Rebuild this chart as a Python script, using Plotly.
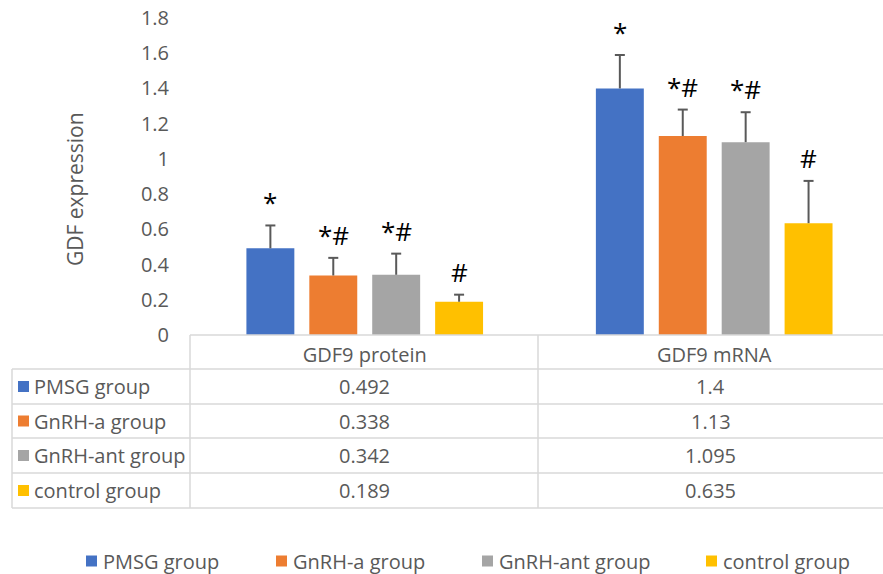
import plotly.graph_objects as go

# ---- data -------------------------------------------------------------
categories = ["GDF9 protein", "GDF9 mRNA"]
groups = ["PMSG group", "GnRH-a group", "GnRH-ant group", "control group"]
colors = ["#4472C4", "#ED7D31", "#A5A5A5", "#FFC000"]

pmsg = [0.492, 1.4]
gnrh_a = [0.338, 1.13]
gnrh_ant = [0.342, 1.095]
control = [0.189, 0.635]

pmsg_err = [0.13, 0.19]
gnrh_a_err = [0.10, 0.15]
gnrh_ant_err = [0.12, 0.17]
control_err = [0.04, 0.24]

pmsg_sig = ["*", "*"]
gnrh_a_sig = ["*#", "*#"]
gnrh_ant_sig = ["*#", "*#"]
control_sig = ["#", "#"]

y_ticks = [0, 0.2, 0.4, 0.6, 0.8, 1, 1.2, 1.4, 1.6, 1.8]

series = [pmsg, gnrh_a, gnrh_ant, control]
errors = [pmsg_err, gnrh_a_err, gnrh_ant_err, control_err]
sigs = [pmsg_sig, gnrh_a_sig, gnrh_ant_sig, control_sig]

# ---- layout geometry (pixels) ------------------------------------------
W, H = 883, 574
PLOT_L, PLOT_R, PLOT_T, PLOT_B = 190, 883, 18, 335
TABLE_L, COL_SPLIT = 12, 538
ROW_LINES = [369, 404, 438, 473, 508]
TEXT = "#595959"
GRID = "#d9d9d9"
FONT = "Open Sans"
FS = 20

X_RANGE = [-0.5, 1.483]
UNIT_PX = (PLOT_R - PLOT_L) / (X_RANGE[1] - X_RANGE[0])
CAP = 5 / UNIT_PX  # half-width of the error-bar cap, in axis units


def px_x(q):
    return (q - PLOT_L) / (PLOT_R - PLOT_L)


def px_y(p):
    return (PLOT_B - p) / (PLOT_B - PLOT_T)


fig = go.Figure()

n_groups = len(groups)
bargap = 0.28
bargroupgap = 0.238
slot = (1 - bargap) / n_groups
xpos = list(range(len(categories)))

for i, (name, vals, col) in enumerate(zip(groups, series, colors)):
    fig.add_trace(go.Bar(
        name=name, x=xpos, y=vals,
        marker=dict(color=col, line=dict(width=0)),
        showlegend=False,
    ))

# upper-only error whiskers and significance marks
for i, (vals, errs, marks) in enumerate(zip(series, errors, sigs)):
    offset = -(1 - bargap) / 2 + slot * (i + 0.5)
    wx, wy = [], []
    for j in xpos:
        xc = j + offset
        top = vals[j] + errs[j]
        wx += [xc, xc, None, xc - CAP, xc + CAP, None]
        wy += [vals[j], top, None, top, top, None]
        fig.add_annotation(
            x=xc, y=top, xref="x", yref="y",
            text=marks[j], showarrow=False, yanchor="bottom", yshift=3,
            font=dict(family=FONT, size=26, color="black"),
        )
    fig.add_trace(go.Scatter(
        x=wx, y=wy, mode="lines", line=dict(color=TEXT, width=2),
        hoverinfo="skip", showlegend=False,
    ))

shapes = []


def hline(y, x0, x1):
    shapes.append(dict(type="line", xref="paper", yref="paper",
                       x0=px_x(x0), x1=px_x(x1), y0=px_y(y), y1=px_y(y),
                       line=dict(color=GRID, width=1.5), layer="above"))


def vline(x, y0, y1):
    shapes.append(dict(type="line", xref="paper", yref="paper",
                       x0=px_x(x), x1=px_x(x), y0=px_y(y0), y1=px_y(y1),
                       line=dict(color=GRID, width=1.5), layer="above"))


# data table grid
hline(PLOT_B, PLOT_L, W)
for y in ROW_LINES:
    hline(y, TABLE_L, W)
vline(TABLE_L, ROW_LINES[0], ROW_LINES[-1])
vline(PLOT_L, PLOT_B, ROW_LINES[-1])
vline(COL_SPLIT, PLOT_B, ROW_LINES[-1])

col_centers = [(PLOT_L + COL_SPLIT) / 2, (COL_SPLIT + W) / 2]

# table rows: colour key, group name, values
for i, (name, vals, col) in enumerate(zip(groups, series, colors)):
    yc = (ROW_LINES[i] + ROW_LINES[i + 1]) / 2
    shapes.append(dict(type="rect", xref="paper", yref="paper",
                       x0=px_x(18), x1=px_x(29), y0=px_y(yc - 5.5), y1=px_y(yc + 5.5),
                       fillcolor=col, line=dict(width=0), layer="above"))
    fig.add_annotation(x=px_x(32), y=px_y(yc), xref="paper", yref="paper",
                       text=name, showarrow=False, xanchor="left", yanchor="middle",
                       font=dict(family=FONT, size=FS, color=TEXT))
    for j, v in enumerate(vals):
        fig.add_annotation(x=px_x(col_centers[j]), y=px_y(yc), xref="paper", yref="paper",
                           text=f"{v:g}", showarrow=False, xanchor="center", yanchor="middle",
                           font=dict(family=FONT, size=FS, color=TEXT))

# bottom legend
legend_left = [86, 276, 482, 706]
LEG_Y = 561
for name, col, xl in zip(groups, colors, legend_left):
    shapes.append(dict(type="rect", xref="paper", yref="paper",
                       x0=px_x(xl), x1=px_x(xl + 11), y0=px_y(LEG_Y - 5.5), y1=px_y(LEG_Y + 5.5),
                       fillcolor=col, line=dict(width=0), layer="above"))
    fig.add_annotation(x=px_x(xl + 15), y=px_y(LEG_Y), xref="paper", yref="paper",
                       text=name, showarrow=False, xanchor="left", yanchor="middle",
                       font=dict(family=FONT, size=FS, color=TEXT))

# y-axis title
fig.add_annotation(x=px_x(75), y=px_y(189), xref="paper", yref="paper",
                   text="GDF expression", textangle=-90, showarrow=False,
                   xanchor="center", yanchor="middle",
                   font=dict(family=FONT, size=21, color=TEXT))

fig.update_layout(
    width=W, height=H,
    margin=dict(l=PLOT_L, r=W - PLOT_R, t=PLOT_T, b=H - PLOT_B, pad=0),
    paper_bgcolor="white", plot_bgcolor="white",
    barmode="group", bargap=bargap, bargroupgap=bargroupgap,
    shapes=shapes,
    font=dict(family=FONT, size=FS, color=TEXT),
    xaxis=dict(range=X_RANGE, tickvals=xpos, ticktext=categories,
               showgrid=False, zeroline=False, showline=False, ticks="",
               ticklabelstandoff=6, tickfont=dict(family=FONT, size=FS, color=TEXT)),
    yaxis=dict(range=[0, 1.8], tickvals=y_ticks, showgrid=False, zeroline=False,
               showline=False, ticks="", ticklabelstandoff=20,
               tickfont=dict(family=FONT, size=FS, color=TEXT)),
    showlegend=False,
)

fig.write_html("out.html")
